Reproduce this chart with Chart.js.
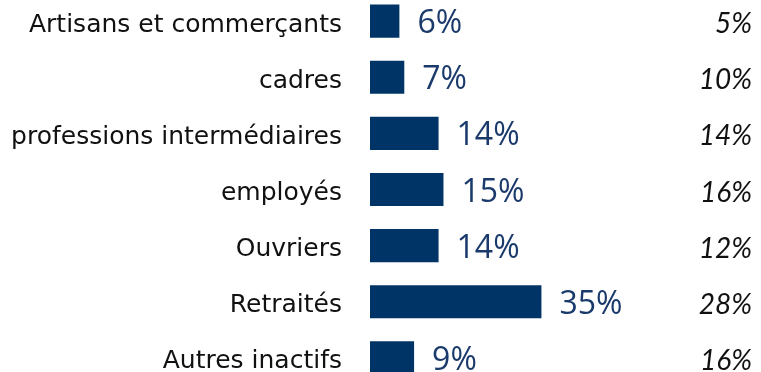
<!DOCTYPE html>
<html>
<head>
<meta charset="utf-8">
<script src="https://cdn.jsdelivr.net/npm/chart.js@4"></script>
<style>
    html, body {margin: 0; padding: 0; background: #fff; overflow: hidden;}
    #wrap {position: absolute; left: 0; top: -7px; width: 761px; height: 393px;}
</style>
</head>
<body>
<div id="wrap"><canvas id="chart"></canvas></div>
<script>
const categories = ['Artisans et commerçants', 'cadres', 'professions intermédiaires', 'employés', 'Ouvriers', 'Retraités', 'Autres inactifs']
const barValues = [6, 7, 14, 15, 14, 35, 9]
const compareValues = [5, 10, 14, 16, 12, 28, 16]

const labelFont = '"DejaVu Sans", sans-serif'
const valueFont = '"Open Sans", sans-serif'
const compareFont = 'Lato, sans-serif'

new Chart(document.getElementById('chart'), {
    type: 'bar',
    data: {
        labels: categories,
        datasets: [{
            data: barValues,
            backgroundColor: '#003466',
            borderWidth: 0,
            barPercentage: 0.59,
            categoryPercentage: 1,
        }],
    },
    options: {
        indexAxis: 'y',
        responsive: true,
        maintainAspectRatio: false,
        animation: false,
        layout: {padding: {left: 0, right: 151, top: 0, bottom: 0}},
        plugins: {
            legend: {display: false},
            tooltip: {enabled: false},
        },
        scales: {
            x: {
                display: false,
                min: 0,
                max: 49,
            },
            y: {
                grid: {display: false, drawTicks: false},
                border: {display: false},
                ticks: {
                    color: '#111',
                    font: {family: labelFont, size: 25},
                    padding: 28,
                    labelOffset: 4,
                },
                afterFit(scale) {
                    scale.width = 370
                    scale.paddingTop = 0
                    scale.paddingBottom = 0
                },
            },
        },
    },
    plugins: [{
        id: 'value-labels',
        afterDatasetsDraw(chart) {
            const {ctx} = chart
            const meta = chart.getDatasetMeta(0)
            ctx.save()
            ctx.textBaseline = 'middle'
            meta.data.forEach((bar, i) => {
                ctx.fillStyle = '#1b3a6c'
                ctx.font = `32px ${valueFont}`
                ctx.textAlign = 'left'
                ctx.fillText(barValues[i] + '%', bar.x + 18, bar.y + 3)

                ctx.fillStyle = '#111'
                ctx.font = `italic 28px ${compareFont}`
                ctx.textAlign = 'right'
                ctx.fillText(compareValues[i] + '%', chart.width - 9, bar.y + 3)
            })
            ctx.restore()
        },
    }],
})
</script>
</body>
</html>
